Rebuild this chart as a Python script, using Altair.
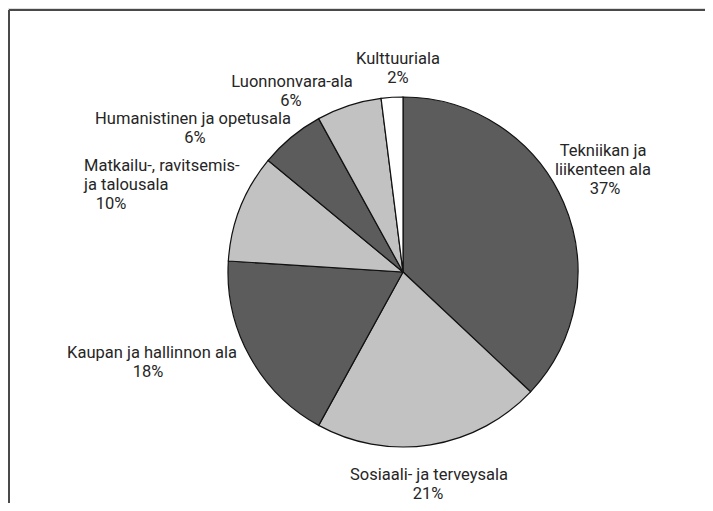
import altair as alt
import pandas as pd

# ---- data ----
categories = [
    "Tekniikan ja liikenteen ala",
    "Sosiaali- ja terveysala",
    "Kaupan ja hallinnon ala",
    "Matkailu-, ravitsemis- ja talousala",
    "Humanistinen ja opetusala",
    "Luonnonvara-ala",
    "Kulttuuriala",
]
shares = [37, 21, 18, 10, 6, 6, 2]
label_lines = [
    ["Tekniikan ja", "liikenteen ala"],
    ["Sosiaali- ja terveysala"],
    ["Kaupan ja hallinnon ala"],
    ["Matkailu-, ravitsemis-", "ja talousala"],
    ["Humanistinen ja opetusala"],
    ["Luonnonvara-ala"],
    ["Kulttuuriala"],
]

# ---- styling / layout ----
fills = ["#5c5c5c", "#c2c2c2", "#5c5c5c", "#c2c2c2", "#5c5c5c", "#c2c2c2", "#ffffff"]
PAGE = 8
W, H = 697, 495
CX, CY, R = 403 - PAGE, 272 - PAGE, 175
LH = 19
# label anchors (page px): name x, first baseline y, name alignment, percent centre x
label_anchor = [
    (603, 156, "center", 605),
    (429, 480, "center", 428),
    (152, 358, "center", 148),
    (84, 171, "left", 111),
    (193, 124, "center", 195),
    (292, 87, "center", 291),
    (398, 64, "center", 398),
]
FONT = "Roboto"

df = pd.DataFrame({
    "ala": categories,
    "osuus": shares,
    "order": list(range(len(categories))),
})

pie = alt.Chart(df).mark_arc(
    outerRadius=R, x=CX, y=CY, stroke="#111111", strokeWidth=1.2
).encode(
    theta=alt.Theta("osuus:Q", stack=True),
    order=alt.Order("order:Q"),
    color=alt.Color("ala:N", scale=alt.Scale(domain=categories, range=fills), legend=None),
)

rows = []
for lines, s, (x, y, al, px) in zip(label_lines, shares, label_anchor):
    rows.append({"text": "\n".join(lines), "x": x - PAGE, "y": y - PAGE, "align": al})
    rows.append({"text": f"{s}%", "x": px - PAGE, "y": y + LH * len(lines) - PAGE, "align": "center"})
lab = pd.DataFrame(rows)

def text_layer(align):
    return alt.Chart(lab[lab["align"] == align]).mark_text(
        align=align, baseline="alphabetic", font=FONT, fontSize=16.5,
        lineBreak="\n", lineHeight=LH, color="#262626"
    ).encode(
        x=alt.X("x:Q", scale=None),
        y=alt.Y("y:Q", scale=None),
        text="text:N",
    )

border_top = alt.Chart(df).mark_rule(color="#4a4a4a", strokeWidth=1.6).encode(
    x=alt.value(1), x2=alt.value(W), y=alt.value(2)
)
border_left = alt.Chart(df).mark_rule(color="#4a4a4a", strokeWidth=1.6).encode(
    x=alt.value(1), y=alt.value(2), y2=alt.value(H)
)

chart = alt.layer(
    pie, text_layer("center"), text_layer("left"), border_top, border_left
).properties(
    width=W, height=H, autosize=alt.AutoSizeParams(type="none"), padding=0
).configure_view(stroke=None).configure(background="white")

chart.save("out.html", embed_options={"renderer": "svg", "actions": False})
